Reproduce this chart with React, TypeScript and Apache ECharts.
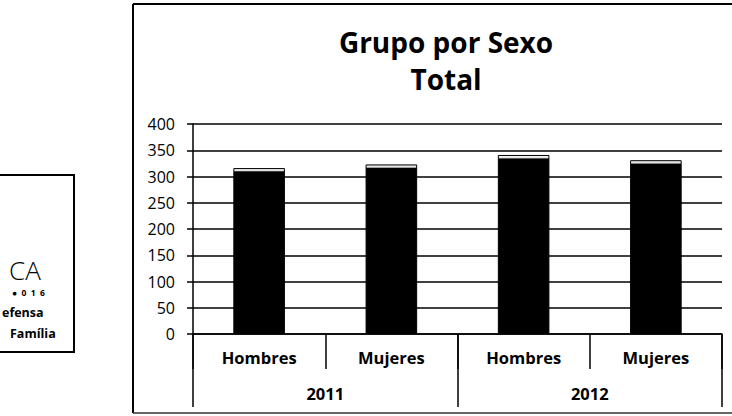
import React, { useEffect, useRef } from "react";
import * as echarts from "echarts";

const sexCategories = ["Hombres", "Mujeres", "Hombres", "Mujeres"];
const yearCategories = ["2011", "2012"];
const totals = [316, 323, 341, 331];
const yTicks = { min: 0, max: 400, interval: 50 };
const titleText = "Grupo por Sexo\nTotal";
const logoLines = ["CA", "\u25CF  0  1  6", "efensa", "Família"];

export default function App() {
  const ref = useRef<HTMLDivElement>(null);
  useEffect(() => {
    if (!ref.current) return;
    const chart = echarts.init(ref.current, null, { renderer: "svg" });
    const font = "'Open Sans', sans-serif";
    chart.setOption({
      animation: false,
      backgroundColor: "#ffffff",
      title: {
        text: titleText,
        left: 441,
        textAlign: "center",
        top: 18,
        textStyle: {
          fontFamily: font,
          fontWeight: "bold",
          fontSize: 28,
          lineHeight: 37,
          color: "#000",
        },
      },
      grid: { left: 193, right: 10, top: 124, bottom: 82, containLabel: false },
      xAxis: [
        {
          type: "category",
          data: sexCategories,
          position: "bottom",
          axisLine: { show: true, lineStyle: { color: "#000", width: 1.5 } },
          axisTick: { show: true, length: 35, interval: 0, lineStyle: { color: "#000", width: 1.5 } },
          axisLabel: {
            interval: 0,
            margin: 15,
            fontFamily: font,
            fontWeight: "bold",
            fontSize: 16.5,
            color: "#000",
          },
        },
        {
          type: "category",
          data: yearCategories,
          position: "bottom",
          axisLine: { show: false },
          axisTick: { show: true, length: 73, interval: 0, lineStyle: { color: "#000", width: 1.5 } },
          axisLabel: {
            interval: 0,
            margin: 51,
            fontFamily: font,
            fontWeight: "bold",
            fontSize: 16.5,
            color: "#000",
          },
        },
      ],
      yAxis: {
        type: "value",
        min: yTicks.min,
        max: yTicks.max,
        interval: yTicks.interval,
        axisLine: { show: true, lineStyle: { color: "#000", width: 1.5 } },
        axisTick: { show: true, length: 6, lineStyle: { color: "#000", width: 1.5 } },
        axisLabel: { margin: 18, fontFamily: font, fontSize: 16, color: "#000" },
        splitLine: { show: true, lineStyle: { color: "#000", width: 1.5 } },
      },
      series: [
        {
          type: "bar",
          xAxisIndex: 0,
          data: totals,
          barWidth: "39%",
          itemStyle: {
            color: new echarts.graphic.LinearGradient(0, 0, 0, 1, [
              { offset: 0, color: "#444" },
              { offset: 0.004, color: "#f6f6f6" },
              { offset: 0.014, color: "#dcdcdc" },
              { offset: 0.019, color: "#000" },
              { offset: 1, color: "#000" },
            ]),
            borderColor: "#000",
            borderWidth: 1,
          },
        },
      ],
      graphic: [
        { type: "line", shape: { x1: 133, y1: 4, x2: 732, y2: 4 }, style: { stroke: "#000", lineWidth: 2 } },
        { type: "line", shape: { x1: 133, y1: 4, x2: 133, y2: 413 }, style: { stroke: "#000", lineWidth: 2 } },
        { type: "line", shape: { x1: 133, y1: 413, x2: 732, y2: 413 }, style: { stroke: "#333", lineWidth: 1.5 } },
        { type: "polyline", shape: { points: [[0, 175], [74, 175], [74, 352], [0, 352]] }, style: { stroke: "#000", lineWidth: 2, fill: "none" } },
        { type: "text", x: 9, y: 283, style: { text: logoLines[0], font: "300 26px 'Open Sans', sans-serif", fill: "#000", textVerticalAlign: "bottom" } },
        { type: "text", x: 12, y: 292, style: { text: logoLines[1], font: "bold 8.5px 'Open Sans', sans-serif", fill: "#000", textVerticalAlign: "middle" } },
        { type: "text", x: 2, y: 312, style: { text: logoLines[2], font: "bold 12.5px 'Open Sans', sans-serif", fill: "#000", textVerticalAlign: "middle" } },
        { type: "text", x: 10, y: 333, style: { text: logoLines[3], font: "bold 12.5px 'Open Sans', sans-serif", fill: "#000", textVerticalAlign: "middle" } },
      ],
    });
    return () => chart.dispose();
  }, []);
  return (
    <div
      ref={ref}
      style={{ position: "fixed", left: 0, top: 0, width: 732, height: 416 }}
    />
  );
}
